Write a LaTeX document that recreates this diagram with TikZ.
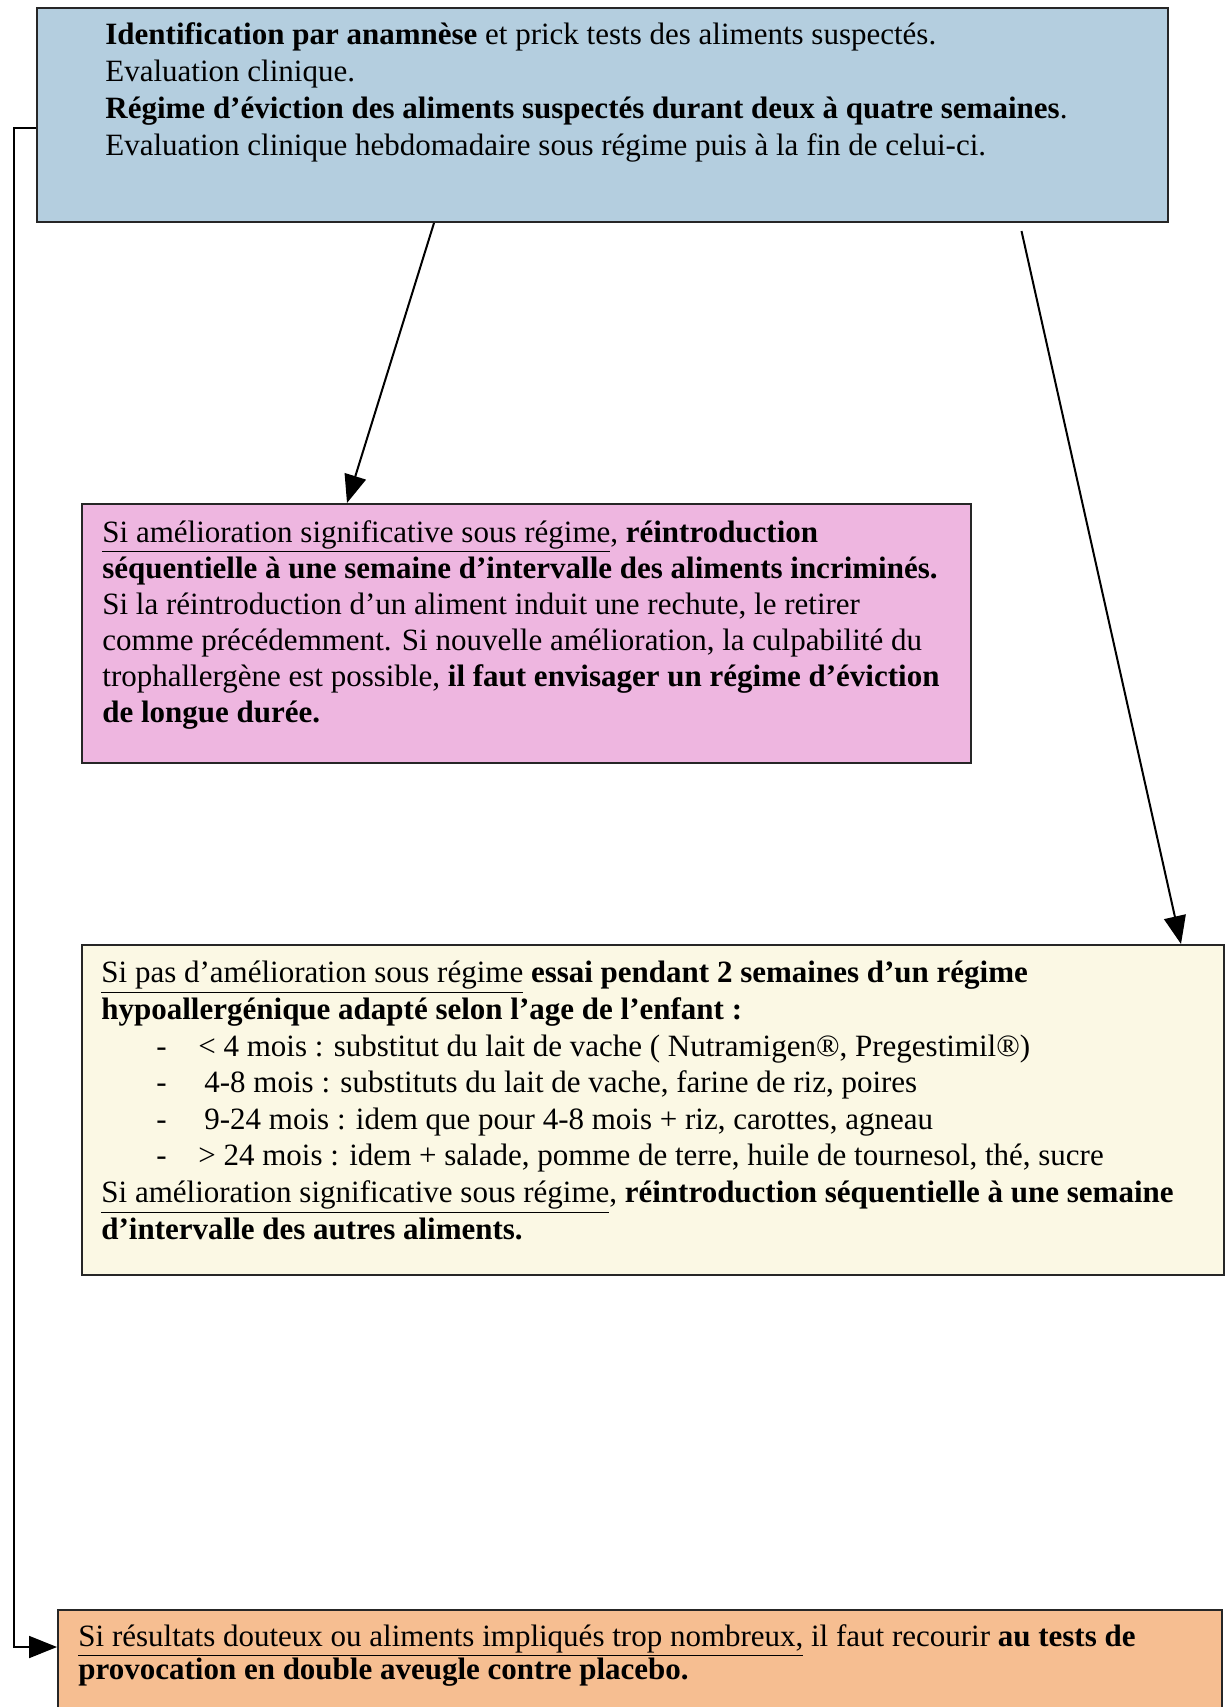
\documentclass[tikz,border=0pt]{standalone}
\usepackage{fontspec}
\setmainfont{Liberation Serif}
\usepackage{xcolor}
\usetikzlibrary{arrows.meta}

\definecolor{boxblue}{RGB}{180,206,223}
\definecolor{boxpink}{RGB}{238,182,224}
\definecolor{boxcream}{RGB}{251,248,228}
\definecolor{boxorange}{RGB}{246,190,145}
\AtBeginDocument{\lineskiplimit=-20pt\relax}

\begin{document}
\begin{tikzpicture}[x=0.5pt, y=-0.5pt,
  box/.style={draw=black!85, line width=1pt, anchor=north west, inner sep=0pt},
  txt/.style={anchor=north west, inner sep=0pt, align=left, font=\fontsize{15.5}{18}\selectfont},
  conn/.style={line width=1pt, -{Triangle[length=14pt, width=11pt]}}]

\useasboundingbox (0,0) rectangle (1226,1707);

% Boxes
\node[box, fill=boxblue, minimum width=565.5pt, minimum height=107pt] (ident) at (36,7) {};
\node[box, fill=boxpink, minimum width=444.5pt, minimum height=129.5pt] (amelio) at (81,503) {};
\node[box, fill=boxcream, minimum width=571pt, minimum height=165pt] (pasamelio) at (81,944) {};
\node[box, fill=boxorange, minimum width=582pt, minimum height=70pt] (provoc) at (57,1609) {};

% Texts
\node[txt, font=\fontsize{15.5}{18.5}\selectfont] (identtxt) at (105,22) {%
\textbf{Identification par anamnèse} et prick tests des aliments suspectés.\\
Evaluation clinique.\\
\textbf{Régime d’éviction des aliments suspectés durant deux à quatre semaines}.\\
Evaluation clinique hebdomadaire sous régime puis à la fin de celui-ci.};

\node[txt] (amelitxt) at (102,520) {%
\underline{Si amélioration significative sous régime}, \textbf{réintroduction}\\
\textbf{séquentielle à une semaine d’intervalle des aliments incriminés.}\\
Si la réintroduction d’un aliment induit une rechute, le retirer\\
comme précédemment. Si nouvelle amélioration, la culpabilité du\\
trophallergène est possible, \textbf{il faut envisager un régime d’éviction}\\
\textbf{de longue durée.}};

\node[txt, font=\fontsize{15.5}{18.3}\selectfont] (pastxt) at (101,961) {%
\underline{Si pas d’amélioration sous régime} \textbf{essai pendant 2 semaines d’un régime}\\
\textbf{hypoallergénique adapté selon l’age de l’enfant :}\\
\hspace*{27.5pt}\makebox[21pt][l]{-}< 4 mois : substitut du lait de vache ( Nutramigen®, Pregestimil®)\\
\hspace*{27.5pt}\makebox[21pt][l]{-}\hspace{3pt}4-8 mois : substituts du lait de vache, farine de riz, poires\\
\hspace*{27.5pt}\makebox[21pt][l]{-}\hspace{3pt}9-24 mois : idem que pour 4-8 mois + riz, carottes, agneau\\
\hspace*{27.5pt}\makebox[21pt][l]{-}> 24 mois : idem + salade, pomme de terre, huile de tournesol, thé, sucre\\
\underline{Si amélioration significative sous régime}, \textbf{réintroduction séquentielle à une semaine}\\
\textbf{d’intervalle des autres aliments.}};

\node[txt, font=\fontsize{15.5}{16.5}\selectfont] (provoctxt) at (78,1624) {%
\underline{Si résultats douteux ou aliments impliqués trop nombreux,} il faut recourir \textbf{au tests de}\\
\textbf{provocation en double aveugle contre placebo.}};

% Connectors
\coordinate (railtop) at (14,128);
\coordinate (railbot) at (14,1647);
\draw[conn] ([xshift=-84.25pt]ident.south) -- ([xshift=-89.75pt]amelio.north);
\draw[conn] ([xshift=209.5pt]ident.south |- 0,231) -- (pasamelio.north east -| 1181,0);
\draw[conn] (ident.west |- railtop) -- (railtop) -- (railbot) -- (provoc.west |- railbot);

\end{tikzpicture}
\end{document}
